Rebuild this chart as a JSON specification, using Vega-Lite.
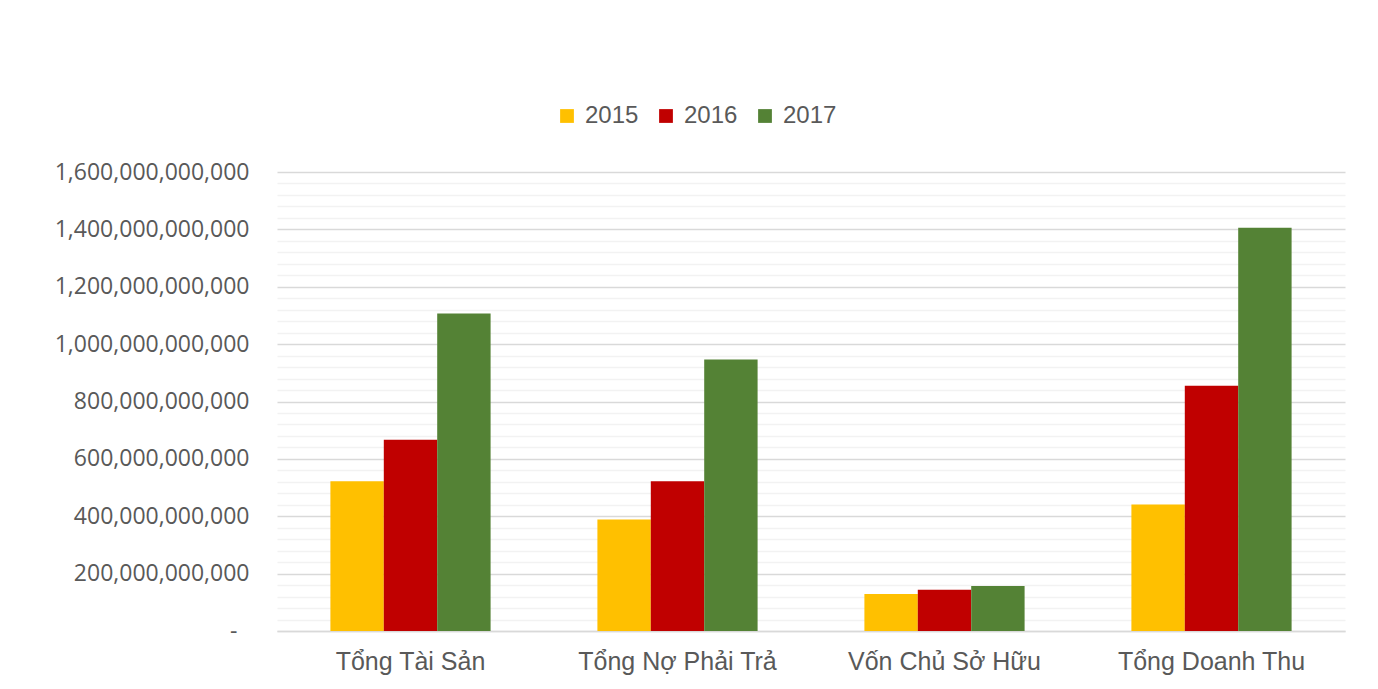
{
  "$schema": "https://vega.github.io/schema/vega-lite/v6.json",
  "width": 1068,
  "height": 459,
  "autosize": {"type": "none"},
  "padding": {"left": 277, "top": 172, "right": 33, "bottom": 58},
  "background": "white",
  "config": {
    "view": {"stroke": null},
    "font": "Liberation Sans"
  },
  "data": {
    "values": [
      {"category": "Tổng Tài Sản", "year": "2015", "value": 522000000000},
      {"category": "Tổng Tài Sản", "year": "2016", "value": 667000000000},
      {"category": "Tổng Tài Sản", "year": "2017", "value": 1107000000000},
      {"category": "Tổng Nợ Phải Trả", "year": "2015", "value": 389000000000},
      {"category": "Tổng Nợ Phải Trả", "year": "2016", "value": 522000000000},
      {"category": "Tổng Nợ Phải Trả", "year": "2017", "value": 946000000000},
      {"category": "Vốn Chủ Sở Hữu", "year": "2015", "value": 129000000000},
      {"category": "Vốn Chủ Sở Hữu", "year": "2016", "value": 144000000000},
      {"category": "Vốn Chủ Sở Hữu", "year": "2017", "value": 157000000000},
      {"category": "Tổng Doanh Thu", "year": "2015", "value": 441000000000},
      {"category": "Tổng Doanh Thu", "year": "2016", "value": 855000000000},
      {"category": "Tổng Doanh Thu", "year": "2017", "value": 1406000000000}
    ]
  },
  "mark": {"type": "bar"},
  "encoding": {
    "x": {
      "field": "category",
      "type": "nominal",
      "sort": null,
      "scale": {"paddingInner": 0.4, "paddingOuter": 0.2},
      "axis": {
        "title": null,
        "labelAngle": 0,
        "ticks": false,
        "domainColor": "#d9d9d9",
        "domainWidth": 1.5,
        "labelFont": "Liberation Sans",
        "labelFontSize": 25,
        "labelColor": "#595959",
        "labelPadding": 18,
        "labelLimit": 0
      }
    },
    "xOffset": {
      "field": "year",
      "type": "nominal",
      "scale": {"paddingInner": 0, "paddingOuter": 0}
    },
    "y": {
      "field": "value",
      "type": "quantitative",
      "scale": {"domain": [0, 1600000000000], "nice": false},
      "axis": {
        "title": null,
        "domain": false,
        "ticks": false,
        "values": [0, 40000000000, 80000000000, 120000000000, 160000000000, 200000000000, 240000000000, 280000000000, 320000000000, 360000000000, 400000000000, 440000000000, 480000000000, 520000000000, 560000000000, 600000000000, 640000000000, 680000000000, 720000000000, 760000000000, 800000000000, 840000000000, 880000000000, 920000000000, 960000000000, 1000000000000, 1040000000000, 1080000000000, 1120000000000, 1160000000000, 1200000000000, 1240000000000, 1280000000000, 1320000000000, 1360000000000, 1400000000000, 1440000000000, 1480000000000, 1520000000000, 1560000000000, 1600000000000],
        "labelExpr": "datum.value % 200000000000 === 0 ? (datum.value === 0 ? '-' : format(datum.value, ',.0f')) : ''",
        "labelFont": "Open Sans",
        "labelFontSize": 23,
        "labelColor": "#595959",
        "labelPadding": {"condition": {"test": "datum.value === 0", "value": 40}, "value": 28},
        "labelLimit": 0,
        "labelOverlap": false,
        "gridColor": {"condition": {"test": "datum.value % 200000000000 === 0", "value": "#d9d9d9"}, "value": "#f2f2f2"},
        "gridWidth": 1.5
      }
    },
    "color": {
      "field": "year",
      "type": "nominal",
      "scale": {"domain": ["2015", "2016", "2017"], "range": ["#ffc000", "#c00000", "#548235"]},
      "legend": {
        "title": null,
        "orient": "none",
        "direction": "horizontal",
        "legendX": 278,
        "legendY": -68,
        "symbolType": "square",
        "symbolSize": 190,
        "symbolStrokeWidth": 0,
        "labelFont": "Liberation Sans",
        "labelFontSize": 24,
        "labelColor": "#595959",
        "labelOffset": 6,
        "columnPadding": 15
      }
    }
  }
}
